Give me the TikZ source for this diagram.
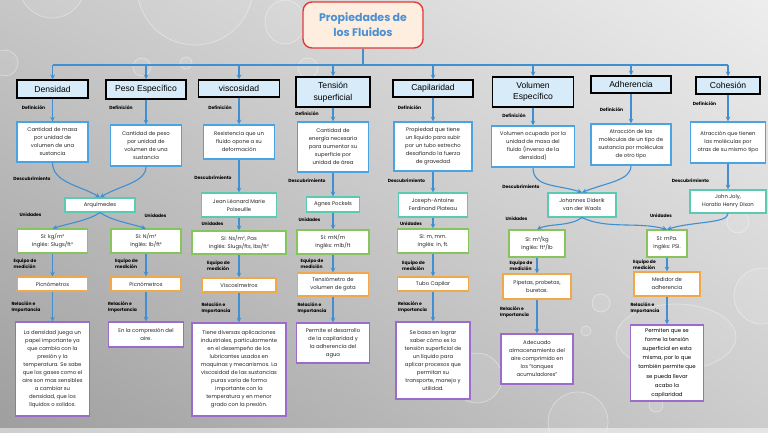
\documentclass[tikz,border=0pt]{standalone}
\usepackage{fontspec}
\usetikzlibrary{shadings}
\setmainfont{Poppins}
\newfontfamily\headfont{Liberation Sans}
\definecolor{linkblue}{HTML}{3F8FD2}
\definecolor{hdrblue}{HTML}{D8EBF9}
\definecolor{defblue}{HTML}{4AA3E2}
\definecolor{discteal}{HTML}{5CC9B2}
\definecolor{unitgreen}{HTML}{86C55C}
\definecolor{equiporange}{HTML}{F0A84A}
\definecolor{imppurple}{HTML}{9C6CCB}
\definecolor{titlered}{HTML}{E23A3A}
\definecolor{titlefill}{HTML}{FDEEDF}
\definecolor{titleblue}{HTML}{4D90D2}
\begin{document}
\begin{tikzpicture}[x=1pt,y=-1pt,>=stealth,
  sz/.style 2 args={minimum width=#1,minimum height=#2},
  box/.style={rectangle,fill=white,line width=1.1pt,align=center,inner sep=1pt,
    text=black!85,font=\fontsize{5.3}{8}\selectfont},
  hdr/.style={rectangle,draw=black,line width=1.5pt,fill=hdrblue,align=center,
    inner sep=1pt,font=\headfont\fontsize{8.6}{11.5}\selectfont},
  defbox/.style={box,draw=defblue},
  discbox/.style={box,draw=discteal},
  unitbox/.style={box,draw=unitgreen},
  equipbox/.style={box,draw=equiporange},
  impbox/.style={box,draw=imppurple},
  lbl/.style={align=left,inner sep=0pt,text=black,
    font=\bfseries\fontsize{4.5}{5.6}\selectfont},
  conn/.style={draw=linkblue,line width=1.1pt},
  drop/.style={draw=white,line width=0.7pt,draw opacity=0.4,fill=white,fill opacity=0.08}]

\useasboundingbox (0,0) rectangle (768,433);
\shade[upper left=black!22,upper right=black!7,lower left=black!38,lower right=black!20]
  (0,0) rectangle (768,433);
\fill[white,opacity=0.5] (0,428) rectangle (768,433);

\draw[drop] (52,-15) circle (33);
\draw[drop] (195,-13) circle (58);
\draw[drop] (285,22) ellipse (20 and 22);
\draw[drop] (5,63) circle (13);
\draw[drop] (142,67) circle (9);
\draw[drop] (186,63) circle (6);
\draw[drop] (308,68) circle (10);
\draw[drop] (738,222) circle (11);
\draw[drop] (762,296) circle (28);
\draw[drop] (676,337) ellipse (60 and 33);
\draw[drop] (601,303) circle (9);
\draw[drop] (586,331) circle (5);
\draw[drop] (656,405) circle (7);
\draw[drop] (477,378) circle (25);
\draw[drop] (578,422) circle (30);

\node[rectangle,rounded corners=9pt,draw=titlered,line width=1.4pt,fill=titlefill,
  sz={120}{46},align=center,text=titleblue,
  font=\bfseries\fontsize{11}{15}\selectfont] (title) at (363,25) {Propiedades de\\los Fluidos};

\node[hdr,sz={71}{18}] (dens) at (52.5,89) {Densidad};
\node[hdr,sz={80}{19}] (peso) at (146,89.5) {Peso Específico};
\node[hdr,sz={81}{17}] (visc) at (239,88.5) {viscosidad};
\node[hdr,sz={74}{30}] (tens) at (333,92) {Tensión\\superficial};
\node[hdr,sz={80}{17}] (capi) at (433,88.5) {Capilaridad};
\node[hdr,sz={81}{30}] (volu) at (533,92) {Volumen\\Específico};
\node[hdr,sz={80}{17}] (adhe) at (631,84.5) {Adherencia};
\node[hdr,sz={64}{17}] (cohe) at (728,85.5) {Cohesión};

\coordinate (bus) at (363,65);
\draw[conn] (title.south) -- (bus);
\draw[conn] (dens.north |- bus) -- (cohe.north |- bus);
\foreach \n in {dens,peso,visc,tens,capi,volu,adhe,cohe}
  \draw[conn,->] (\n.north |- bus) -- (\n.north);

\node[defbox,sz={71}{40}] (dens-d) at (52.5,142) {Cantidad de masa\\por unidad de\\volumen de una\\sustancia};
\node[defbox,sz={71}{41}] (peso-d) at (146,145.5) {Cantidad de peso\\por unidad de\\volumen de una\\sustancia};
\node[defbox,sz={71}{34}] (visc-d) at (239,142) {Resistencia que un\\fluido opone a su\\deformación};
\node[defbox,sz={71}{50}] (tens-d) at (333,147) {Cantidad de\\energía necesaria\\para aumentar su\\superficie por\\unidad de área};
\node[defbox,sz={78}{49}] (capi-d) at (433,146.5) {Propiedad que tiene\\un líquido para subir\\por un tubo estrecho\\desafiando la fuerza\\de gravedad};
\node[defbox,sz={83}{41}] (volu-d) at (533,146.5) {Volumen ocupado por la\\unidad de masa del\\fluido (inverso de la\\densidad)};
\node[defbox,sz={80}{41}] (adhe-d) at (631,144.5) {Atracción de las\\moléculas de un tipo de\\sustancia por moléculas\\de otro tipo};
\node[defbox,sz={75}{41}] (cohe-d) at (728,142.5) {Atracción que tienen\\las moléculas por\\otras de su mismo tipo};

\node[lbl] (dens-dl) at (33.5,108) {Definición};
\node[lbl] (peso-dl) at (121,108) {Definición};
\node[lbl] (visc-dl) at (220,108) {Definición};
\node[lbl] (tens-dl) at (307,114) {Definición};
\node[lbl] (capi-dl) at (409.5,108) {Definición};
\node[lbl] (volu-dl) at (514,116) {Definición};
\node[lbl] (adhe-dl) at (611.5,110) {Definición};
\node[lbl] (cohe-dl) at (704.5,104) {Definición};

\foreach \n in {dens,peso,visc,tens,capi,volu,adhe,cohe}
  \draw[conn,->] (\n.south) -- (\n-d.north);

\node[discbox,sz={70}{14}] (arqu) at (100,205) {Arquímedes};
\node[discbox,sz={75}{24}] (pois) at (239,205) {Jean Léonard Marie\\Poiseuille};
\node[discbox,sz={53}{15}] (pock) at (333,204.5) {Agnes Pockels};
\node[discbox,sz={69}{24}] (plat) at (433,205) {Joseph-Antoine\\Ferdinand Plateau};
\node[discbox,sz={68}{24}] (waal) at (582,205) {Johannes Diderik\\van der Waals};
\node[discbox,sz={76}{23}] (joly) at (728,201.5) {John Joly,\\Horatio Henry Dixon};

\node[lbl] (dens-bl) at (32,179) {Descubrimiento};
\node[lbl] (visc-bl) at (213,178) {Descubrimiento};
\node[lbl] (tens-bl) at (307,181) {Descubrimiento};
\node[lbl] (capi-bl) at (406.5,181) {Descubrimiento};
\node[lbl] (volu-bl) at (521,187) {Descubrimiento};
\node[lbl] (cohe-bl) at (690.5,181) {Descubrimiento};

\draw[conn,->] (dens-d.south) .. controls +(0,20) and +(-20,-12) .. (arqu.north);
\draw[conn,->] (peso-d.south) .. controls +(0,16) and +(20,-12) .. (arqu.north);
\draw[conn,->] (visc-d) -- (pois);
\draw[conn,->] (tens-d) -- (pock);
\draw[conn,->] (capi-d) -- (plat);
\draw[conn,->] (volu-d.south) .. controls +(0,20) and +(-25,-8) .. (waal.north);
\draw[conn,->] (adhe-d.south) .. controls +(0,15) and +(25,-10) .. (waal.north);
\draw[conn,->] (cohe-d) -- (joly);

\node[unitbox,sz={70}{24}] (dens-u) at (52.5,241) {Si: kg/m³\\Inglés: Slugs/ft³};
\node[unitbox,sz={70}{24}] (peso-u) at (146,241) {Si: N/m³\\Inglés: lb/ft³};
\node[unitbox,sz={94}{23}] (visc-u) at (239,242.5) {Si: Ns/m², Pas\\Inglés: Slugs/fts, lbs/ft²};
\node[unitbox,sz={72}{24}] (tens-u) at (333,242) {Si: mN/m\\Inglés: mlb/ft};
\node[unitbox,sz={71}{24}] (capi-u) at (433,241) {Si: m, mm.\\Inglés: in, ft.};
\node[unitbox,sz={56}{27}] (volu-u) at (537,243.5) {Si: m³/kg\\Inglés: ft³/lb};
\node[unitbox,sz={40}{27}] (adhe-u) at (667,243.5) {Si: mPa.\\Inglés: PSI.};

\node[lbl] (dens-ul) at (30.5,215) {Unidades};
\node[lbl] (peso-ul) at (155.5,216) {Unidades};
\node[lbl] (visc-ul) at (212.5,224) {Unidades};
\node[lbl] (tens-ul) at (309.5,220) {Unidades};
\node[lbl] (capi-ul) at (411,224) {Unidades};
\node[lbl] (volu-ul) at (516.5,219) {Unidades};
\node[lbl] (adhe-ul) at (661,216) {Unidades};

\draw[conn,->] (arqu.south) .. controls +(-12,8) and +(20,-6) .. (dens-u.north);
\draw[conn,->] (arqu.south) .. controls +(12,8) and +(-20,-6) .. (peso-u.north);
\draw[conn,->] (pois) -- (visc-u);
\draw[conn,->] (pock) -- (tens-u);
\draw[conn,->] (plat) -- (capi-u);
\draw[conn,->] (waal.south) .. controls +(-12,9) and +(12,-6) .. (volu-u.north);
\draw[conn,->] (waal.south) .. controls +(25,12) and +(-30,-8) .. (adhe-u.north);
\draw[conn,->] (joly.south) .. controls +(0,10) and +(25,-8) .. (adhe-u.north);

\node[equipbox,sz={70}{14}] (dens-e) at (52.5,284) {Picnómetros};
\node[equipbox,sz={70}{14}] (peso-e) at (146,284) {Picnómetros};
\node[equipbox,sz={74}{14}] (visc-e) at (239,285) {Viscosímetros};
\node[equipbox,sz={71}{23}] (tens-e) at (333,284.5) {Tensiómetro de\\volumen de gota};
\node[equipbox,sz={71}{14}] (capi-e) at (433,284) {Tubo Capilar};
\node[equipbox,sz={68}{25}] (volu-e) at (537,286.5) {Pipetas, probetas,\\buretas.};
\node[equipbox,sz={66}{24}] (adhe-e) at (667,284) {Medidor de\\adherencia};

\node[lbl] (dens-el) at (25,264) {Equipo de\\medición};
\node[lbl] (peso-el) at (126.5,264) {Equipo de\\medición};
\node[lbl] (visc-el) at (218.5,265.5) {Equipo de\\medición};
\node[lbl] (tens-el) at (312,264) {Equipo de\\medición};
\node[lbl] (capi-el) at (413.5,265.5) {Equipo de\\medición};
\node[lbl] (volu-el) at (521,266) {Equipo de\\medición};
\node[lbl] (adhe-el) at (644.5,264.5) {Equipo de\\medición};

\foreach \n in {dens,peso,visc,tens,capi,volu,adhe}
  \draw[conn,->] (\n-u.south) -- (\n-e.north);

\node[impbox,sz={74}{94}] (dens-r) at (52.5,369) {La densidad juega un\\papel importante ya\\que cambia con la\\presión y la\\temperatura. Se sabe\\que los gases como el\\aire son mas sensibles\\a cambiar su\\densidad, que los\\líquidos o solidos.};
\node[impbox,sz={75}{25}] (peso-r) at (146,334.5) {En la compresión del\\aire.};
\node[impbox,sz={94}{93}] (visc-r) at (239,369.5) {Tiene diversas aplicaciones\\industriales, particularmente\\en el desempeño de los\\lubricantes usados en\\maquinas y mecanismos. La\\viscosidad de las sustancias\\puras varia de forma\\importante con la\\temperatura y en menor\\grado con la presión.};
\node[impbox,sz={73}{40}] (tens-r) at (333,343) {Permite el desarrollo\\de la capilaridad y\\la adherencia del\\agua};
\node[impbox,sz={74}{77}] (capi-r) at (433,360.5) {Se basa en lograr\\saber cómo es la\\tensión superficial de\\un líquido para\\aplicar procesos que\\permitan su\\transporte, manejo y\\utilidad.};
\node[impbox,sz={72}{50}] (volu-r) at (537,359) {Adecuado\\almacenamiento del\\aire comprimido en\\los "tanques\\acumuladores"};
\node[impbox,sz={73}{76},text=black,font=\fontsize{5.4}{9.2}\selectfont] (adhe-r) at (667,363) {Permiten que se\\forme la tensión\\superficial en esta\\misma, por lo que\\también permite que\\se pueda llevar\\acabo la\\capilaridad};

\node[lbl] (dens-rl) at (26,307) {Relación e\\Importancia};
\node[lbl] (peso-rl) at (122.5,307) {Relación e\\Importancia};
\node[lbl] (visc-rl) at (216,308) {Relación e\\Importancia};
\node[lbl] (tens-rl) at (312,308) {Relación e\\Importancia};
\node[lbl] (capi-rl) at (412.5,307.5) {Relación e\\Importancia};
\node[lbl] (volu-rl) at (514.5,312) {Relación e\\Importancia};
\node[lbl] (adhe-rl) at (645,308.5) {Relación e\\Importancia};

\foreach \n in {dens,peso,visc,tens,capi,volu,adhe}
  \draw[conn,->] (\n-e.south) -- (\n-r.north);

\end{tikzpicture}
\end{document}
